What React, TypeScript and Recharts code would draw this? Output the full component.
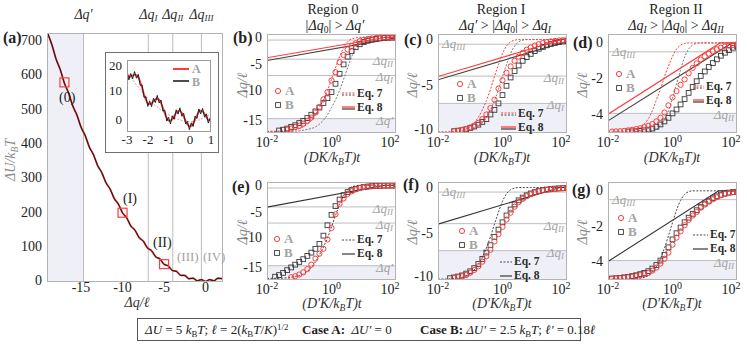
import React from 'react'
import {
  ComposedChart, Line, Scatter, XAxis, YAxis, ReferenceLine, ReferenceArea,
} from 'recharts'

const SERIF = '"Liberation Serif", "Times New Roman", serif'
const RED = '#ff3d3d'
const INK = '#2b2b2b'
const GRID = '#bdbdbd'
const SHADE = '#eff0f7'
const FAINT = '#a3a3a3'

// thresholds (units of ℓ)
const dqPrime = -14.7
const dqI = -6.9
const dqII = -3.95
const dqIII = -0.5

// (a) energy profile
const qMain = [-19, -18.5, -18, -17.5, -17, -16.5, -16, -15.5, -15, -14.5, -14, -13.5, -13, -12.5, -12, -11.5, -11, -10.5, -10, -9.5, -9, -8.5, -8, -7.5, -7, -6.5, -6, -5.5, -5, -4.5, -4, -3.5, -3, -2.5, -2, -1.5, -1, -0.5, 0, 0.5, 1, 1.5, 2]
const uMain = [719.5, 687, 645.5, 615, 575.5, 547, 509.5, 483, 447.5, 423, 389.5, 367, 335.5, 315, 285.5, 267, 239.5, 223, 197.5, 183, 159.5, 147, 125.5, 115, 95.5, 87, 69.5, 63, 47.5, 43, 29.5, 27, 15.5, 15, 5.5, 7, -0.5, 3, -2.5, 3, -0.5, 7, 5.5]
const pickQ = [-17, -10, -5]
const pickU = [578, 198, 48]

// (a) inset
const insetQ = [-3, -2.875, -2.75, -2.625, -2.5, -2.375, -2.25, -2.125, -2, -1.875, -1.75, -1.625, -1.5, -1.375, -1.25, -1.125, -1, -0.875, -0.75, -0.625, -0.5, -0.375, -0.25, -0.125, 0, 0.125, 0.25, 0.375, 0.5, 0.625, 0.75, 0.875, 1]
const insetA = [15.5, 14.76, 15.13, 15.55, 15.0, 13.05, 10.13, 7.26, 5.5, 5.26, 6.13, 7.05, 7.0, 5.55, 3.13, 0.76, -0.5, -0.24, 1.13, 2.55, 3.0, 2.05, 0.13, -1.74, -2.5, -1.74, 0.13, 2.05, 3.0, 2.55, 1.13, -0.24, -0.5]
const insetBQ = [-3, -2.91, -2.82, -2.73, -2.64, -2.55, -2.46, -2.37, -2.28, -2.19, -2.1, -2.01, -1.92, -1.83, -1.74, -1.65, -1.56, -1.47, -1.38, -1.29, -1.2, -1.11, -1.02, -0.93, -0.84, -0.75, -0.66, -0.57, -0.48, -0.39, -0.3, -0.21, -0.12, -0.03, 0.06, 0.15, 0.24, 0.33, 0.42, 0.51, 0.6, 0.69, 0.78, 0.87, 0.96, 1]
const insetB = [16.6, 13.7, 15.9, 14.1, 16.6, 14.3, 15.6, 11.8, 12.0, 7.6, 7.9, 4.5, 6.3, 4.4, 7.3, 5.8, 8.3, 5.7, 6.7, 2.9, 3.2, -0.6, 0.7, -1.6, 1.2, 0.0, 3.3, 1.8, 4.0, 1.1, 2.1, -1.6, -0.7, -3.6, -1.2, -2.5, 1.1, 0.3, 3.6, 1.9, 3.8, 0.8, 1.9, -1.3, 0.5, -0.5]
const guideQ = [-3, -2, -1, 0, 0.5, 1]
const guideU = [16.5, 7.2, 1.5, -0.8, 0, 2]

// time grid for panels (b)-(g)
const tGrid = [0.01, 0.0133, 0.0178, 0.0237, 0.0316, 0.0422, 0.0562, 0.075, 0.1, 0.133, 0.178, 0.237, 0.316, 0.422, 0.562, 0.75, 1, 1.33, 1.78, 2.37, 3.16, 4.22, 5.62, 7.5, 10, 13.3, 17.8, 23.7, 31.6, 42.2, 56.2, 75, 100]
const _ = null

const circlesB = [_, _, _, _, _, -16.7, -16.5, -16.2, -16.0, -15.6, -15.1, -14.5, -13.6, -12.6, -11.2, -9.9, -7.8, -6.3, -4.5, -3.2, -2.2, -1.6, -1.1, -0.7, -0.45, -0.3, -0.2, -0.13, -0.08, -0.05, -0.03, -0.02, -0.01]
const squaresB = [_, _, _, -16.85, -16.7, -16.5, -16.2, -15.9, -15.5, -15.1, -14.6, -14.0, -13.4, -12.7, -11.9, -11.0, -9.9, -8.4, -6.6, -4.9, -3.5, -2.5, -1.8, -1.25, -0.85, -0.6, -0.4, -0.28, -0.18, -0.12, -0.08, -0.05, -0.03]
const eq7bA = [-17, -17, -17, -16.98, -16.95, -16.9, -16.8, -16.65, -16.5, -16.2, -15.7, -15.0, -14.0, -12.7, -11.3, -9.6, -7.6, -5.5, -3.5, -1.9, -0.8, -0.3, -0.1, -0.03, 0, 0, 0, 0, 0, 0, 0, 0, 0]
const eq7bB = [-17, -17, -17, -17, -17, -17, -16.98, -16.95, -16.9, -16.8, -16.65, -16.5, -16.2, -15.7, -15.0, -14.0, -12.7, -11.3, -9.6, -7.6, -5.5, -3.5, -1.9, -0.8, -0.3, -0.1, -0.03, 0, 0, 0, 0, 0, 0]

const circlesC = [_, _, _, _, -9.9, -9.85, -9.75, -9.65, -9.5, -9.3, -9.0, -8.6, -8.1, -7.4, -6.5, -5.3, -4.4, -3.6, -2.9, -2.3, -1.85, -1.45, -1.1, -0.85, -0.65, -0.5, -0.38, -0.28, -0.2, -0.15, -0.1, -0.07, -0.05]
const squaresC = [_, _, _, _, -9.9, -9.85, -9.8, -9.7, -9.55, -9.4, -9.2, -8.9, -8.6, -8.1, -7.6, -6.9, -6.0, -5.0, -4.1, -3.4, -2.8, -2.3, -1.9, -1.55, -1.25, -1.0, -0.8, -0.62, -0.48, -0.37, -0.28, -0.2, -0.15]
const eq7cA = [-10, -10, -10, -9.98, -9.95, -9.9, -9.8, -9.65, -9.4, -9.0, -8.4, -7.6, -6.6, -5.4, -4.0, -2.7, -1.5, -0.7, -0.25, -0.07, 0, 0, 0, 0, 0, 0, 0, 0, 0, 0, 0, 0, 0]
const eq7cB = [-10, -10, -10, -10, -10, -9.98, -9.95, -9.9, -9.8, -9.65, -9.4, -9.0, -8.4, -7.6, -6.6, -5.4, -4.0, -2.7, -1.5, -0.7, -0.25, -0.07, 0, 0, 0, 0, 0, 0, 0, 0, 0, 0, 0]

const circlesD = [_, -4.97, -4.96, -4.95, -4.93, -4.9, -4.87, -4.83, -4.78, -4.72, -4.65, -4.55, -4.4, -4.2, -3.9, -3.5, -3.05, -2.7, -2.35, -2.05, -1.7, -1.4, -1.15, -0.93, -0.75, -0.6, -0.47, -0.36, -0.27, -0.2, -0.15, -0.11, -0.08]
const squaresD = [_, _, _, _, _, -4.97, -4.96, -4.95, -4.93, -4.9, -4.86, -4.8, -4.7, -4.57, -4.4, -4.2, -3.95, -3.73, -3.45, -3.15, -2.8, -2.47, -2.15, -1.85, -1.6, -1.35, -1.13, -0.92, -0.72, -0.55, -0.4, -0.27, -0.17]
const eq7dA = [-5, -5, -5, -5, -5, -4.97, -4.93, -4.85, -4.75, -4.55, -4.25, -3.8, -3.2, -2.6, -1.9, -1.3, -0.75, -0.35, -0.12, -0.03, 0, 0, 0, 0, 0, 0, 0, 0, 0, 0, 0, 0, 0]
const eq7dB = [-5, -5, -5, -5, -5, -5, -5, -5, -5, -5, -4.98, -4.95, -4.85, -4.65, -4.3, -3.8, -3.1, -2.3, -1.5, -0.8, -0.35, -0.12, -0.03, 0, 0, 0, 0, 0, 0, 0, 0, 0, 0]

const circlesE = [_, _, _, _, _, _, -16.8, -16.6, -16.3, -15.9, -15.3, -14.5, -13.4, -12.5, -11.6, -9.9, -7.8, -5.3, -3.4, -2.4, -1.6, -1.1, -0.75, -0.5, -0.35, -0.25, -0.18, -0.13, -0.1, -0.07, -0.05, -0.04, -0.03]
const squaresE = [_, _, -16.7, -16.4, -16.0, -15.5, -15.0, -14.5, -14.0, -13.5, -12.9, -12.3, -11.6, -10.7, -9.2, -7.3, -5.4, -3.8, -2.6, -1.8, -1.25, -0.9, -0.65, -0.45, -0.32, -0.23, -0.16, -0.12, -0.09, -0.06, -0.05, -0.04, -0.03]
const eq7e = [-17, -17, -17, -16.98, -16.95, -16.9, -16.8, -16.65, -16.5, -16.2, -15.7, -15.0, -14.0, -12.7, -11.3, -9.6, -7.6, -5.5, -3.5, -1.9, -0.8, -0.3, -0.1, -0.03, 0, 0, 0, 0, 0, 0, 0, 0, 0]

const circlesF = [_, _, _, _, -9.85, -9.8, -9.7, -9.55, -9.3, -9.0, -8.6, -8.1, -7.5, -6.8, -5.9, -5.1, -4.3, -3.5, -2.75, -2.1, -1.6, -1.25, -0.95, -0.72, -0.55, -0.42, -0.32, -0.25, -0.19, -0.14, -0.1, -0.08, -0.06]
const squaresF = [_, _, _, -9.9, -9.82, -9.72, -9.6, -9.4, -9.15, -8.8, -8.35, -7.8, -7.1, -6.3, -5.4, -4.6, -3.8, -3.05, -2.4, -1.85, -1.4, -1.1, -0.85, -0.65, -0.5, -0.38, -0.29, -0.22, -0.17, -0.13, -0.1, -0.08, -0.06]
const eq7f = [-10, -10, -10, -9.98, -9.95, -9.9, -9.8, -9.65, -9.4, -9.0, -8.4, -7.6, -6.6, -5.4, -4.0, -2.7, -1.5, -0.7, -0.25, -0.07, 0, 0, 0, 0, 0, 0, 0, 0, 0, 0, 0, 0, 0]

const circlesG = [_, -4.97, -4.96, -4.95, -4.93, -4.9, -4.87, -4.83, -4.78, -4.72, -4.65, -4.52, -4.35, -4.12, -3.85, -3.5, -3.05, -2.65, -2.3, -1.95, -1.65, -1.4, -1.2, -0.95, -0.78, -0.62, -0.48, -0.36, -0.26, -0.18, -0.12, -0.08, -0.05]
const squaresG = [_, -4.97, -4.95, -4.93, -4.9, -4.87, -4.83, -4.78, -4.72, -4.65, -4.55, -4.4, -4.2, -3.95, -3.62, -3.2, -2.75, -2.4, -2.08, -1.78, -1.52, -1.3, -1.1, -0.9, -0.72, -0.56, -0.42, -0.31, -0.22, -0.15, -0.1, -0.07, -0.05]
const eq7g = [-5, -5, -5, -5, -5, -5, -5, -4.98, -4.95, -4.9, -4.8, -4.6, -4.3, -3.85, -3.25, -2.55, -1.8, -1.1, -0.55, -0.2, -0.05, 0, 0, 0, 0, 0, 0, 0, 0, 0, 0, 0, 0]

// Eq. 8 (straight in log t)
const eq8bA = { t: [0.01, 50, 100], q: [-3.7, 0, 0] }
const eq8bB = { t: [0.01, 100], q: [-4.2, -0.1] }
const eq8cA = { t: [0.01, 70, 100], q: [-4.0, 0, 0] }
const eq8cB = { t: [0.01, 100], q: [-4.34, -0.2] }
const eq8dA = { t: [0.01, 30, 100], q: [-4.0, 0, 0] }
const eq8dB = { t: [0.01, 70, 100], q: [-4.37, 0, 0] }
const eq8e = { t: [0.01, 45, 100], q: [-4.0, 0, 0] }
const eq8f = { t: [0.01, 60, 100], q: [-4.0, 0, 0] }
const eq8g = { t: [0.01, 27, 100], q: [-4.0, 0, 0] }

const onGrid = (vals: (number | null)[]) =>
  tGrid.map((t, i) => ({ t, q: vals[i] })).filter(d => d.q !== null)
const pairs = (xs: number[], ys: number[], kx: string, ky: string) =>
  xs.map((x, i) => ({ [kx]: x, [ky]: ys[i] }))

const Sub = ({ children }: { children: React.ReactNode }) => (
  <span style={{ fontSize: '0.68em', position: 'relative', top: '0.3em' }}>{children}</span>
)
const Sup = ({ children }: { children: React.ReactNode }) => (
  <span style={{ fontSize: '0.68em', position: 'relative', top: '-0.45em' }}>{children}</span>
)

const abs = (left: number, top: number, s: React.CSSProperties = {}): React.CSSProperties => ({
  position: 'absolute', left, top, whiteSpace: 'nowrap', lineHeight: 1, fontFamily: SERIF, ...s,
})

const LogTick = (props: any) => {
  const { x, y, payload } = props
  const e = Math.round(Math.log10(payload.value))
  return (
    <text x={x} y={y + 14} textAnchor="middle" fontFamily={SERIF} fontSize={14} fill="#222">
      10<tspan dy={-5} fontSize={10}>{e}</tspan>
    </text>
  )
}
const YTick = (props: any) => {
  const { x, y, payload, fs = 14 } = props
  // the lowest label of the ±10 panels sits right next to the 10^-2 label: lift it a little
  const lift = payload.value === -10 ? 2.5 : 0
  return (
    <text x={x - 5} y={y + 4.5 - lift} textAnchor="end" fontFamily={SERIF} fontSize={fs} fill="#222">
      {payload.value}
    </text>
  )
}
const XTick = (props: any) => {
  const { x, y, payload, fs = 14, dy = 11 } = props
  return (
    <text x={x} y={y + dy} textAnchor="middle" fontFamily={SERIF} fontSize={fs} fill="#222">
      {payload.value}
    </text>
  )
}

const LevelLabel = (props: any) => {
  const { viewBox, sub, side } = props
  if (!viewBox || side === 'none') return null
  const right = side === 'right'
  const tx = right ? viewBox.x + viewBox.width - 3 : viewBox.x + 4
  return (
    <text x={tx} y={viewBox.y + (right ? 6 : 4)} textAnchor={right ? 'end' : 'start'}
      fontFamily={SERIF} fontStyle="italic" fontSize={13} fill={FAINT}>
      {sub === "'" ? 'Δq′' : <>Δq<tspan fontSize={9} dy={2}>{sub}</tspan></>}
    </text>
  )
}
const TopLabel = (props: any) => {
  const { viewBox, sub } = props
  if (!viewBox) return null
  return (
    <text x={viewBox.x} y={viewBox.y - 14} textAnchor="middle" fontFamily={SERIF}
      fontStyle="italic" fontSize={14} fill={INK}>
      {sub === "'" ? 'Δq′' : <>Δq<tspan fontSize={9} dy={2}>{sub}</tspan></>}
    </text>
  )
}

const CircleMark = (p: any) => <circle cx={p.cx} cy={p.cy} r={2.6} fill="none" stroke={RED} strokeWidth={1} />
const SquareMark = (p: any) => <rect x={p.cx - 2.4} y={p.cy - 2.4} width={4.8} height={4.8} fill="none" stroke="#3a3a3a" strokeWidth={0.9} />
const PickMark = (p: any) => <rect x={p.cx - 4.5} y={p.cy - 4.5} width={9} height={9} fill="none" stroke={RED} strokeWidth={1.2} />

type Level = { v: number; sub: string; side: 'left' | 'right' | 'none' }
interface PanelProps {
  left: number; top: number; height: number
  yDomain: [number, number]; yTicks: number[]
  shadeTo: number; levels: Level[]
  circles: (number | null)[]; squares: (number | null)[]
  eq7: { vals: number[]; color: string }[]
  eq8: { t: number[]; q: number[]; color: string }[]
}

const PW = 129
function Panel(p: PanelProps) {
  const yAxisW = 34, pad = 6, xAxisH = 20
  return (
    <div style={{ position: 'absolute', left: p.left - yAxisW, top: p.top - pad }}>
      <ComposedChart width={yAxisW + PW + pad} height={pad + p.height + xAxisH}
        margin={{ top: pad, right: pad, bottom: 0, left: 0 }}>
        <XAxis type="number" dataKey="t" scale="log" domain={[0.01, 100]} ticks={[0.01, 1, 100]}
          allowDataOverflow axisLine={false} tickLine={false} tickSize={0} tickMargin={0}
          height={xAxisH} tick={<LogTick />} />
        <YAxis type="number" dataKey="q" domain={p.yDomain} ticks={p.yTicks} allowDataOverflow
          axisLine={false} tickLine={false} tickSize={0} tickMargin={0} width={yAxisW} tick={<YTick />} />
        <ReferenceArea y1={p.yDomain[0]} y2={p.shadeTo} fill={SHADE} fillOpacity={1} stroke="none" />
        {p.levels.map(l => (
          <ReferenceLine key={l.sub} y={l.v} stroke={GRID} strokeWidth={1}
            label={<LevelLabel sub={l.sub} side={l.side} />} />
        ))}
        {p.eq8.map((s, i) => (
          <Line key={'s' + i} data={pairs(s.t, s.q, 't', 'q')} dataKey="q" stroke={s.color}
            strokeWidth={1.1} dot={false} isAnimationActive={false} />
        ))}
        {p.eq7.map((s, i) => (
          <Line key={'d' + i} data={onGrid(s.vals)} dataKey="q" type="monotone" stroke={s.color}
            strokeWidth={1} strokeDasharray="2 1.5" dot={false} isAnimationActive={false} />
        ))}
        <Scatter data={onGrid(p.squares)} shape={SquareMark} isAnimationActive={false} />
        <Scatter data={onGrid(p.circles)} shape={CircleMark} isAnimationActive={false} />
      </ComposedChart>
      <div style={{ position: 'absolute', left: yAxisW, top: pad, width: PW, height: p.height, border: '1px solid #b3b3b3', boxSizing: 'border-box' }} />
    </div>
  )
}

function KeyAB({ x, yA, yB }: { x: number; yA: number; yB: number }) {
  return (
    <>
      <svg style={{ position: 'absolute', left: x - 4, top: yA - 4 }} width={8} height={8}>
        <circle cx={4} cy={4} r={2.6} fill="none" stroke={RED} />
      </svg>
      <div style={abs(x + 7, yA - 6.5, { fontSize: 13, fontWeight: 700, color: FAINT })}>A</div>
      <svg style={{ position: 'absolute', left: x - 4, top: yB - 4 }} width={8} height={8}>
        <rect x={1.6} y={1.6} width={4.8} height={4.8} fill="none" stroke="#3a3a3a" strokeWidth={0.9} />
      </svg>
      <div style={abs(x + 7, yB - 6.5, { fontSize: 13, fontWeight: 700, color: FAINT })}>B</div>
    </>
  )
}

function KeyEq({ x1, x2, y7, y8, pair }: { x1: number; x2: number; y7: number; y8: number; pair: boolean }) {
  const w = x2 - x1
  return (
    <>
      <svg style={{ position: 'absolute', left: x1, top: y7 - 4 }} width={w} height={8}>
        {pair && <line x1={0} x2={w} y1={3} y2={3} stroke={RED} strokeDasharray="2 1.5" />}
        <line x1={0} x2={w} y1={pair ? 5 : 4} y2={pair ? 5 : 4} stroke="#444" strokeDasharray="2 1.5" />
      </svg>
      <div style={abs(x2 + 2, y7 - 6, { fontSize: 11.5, fontWeight: 700, color: INK })}>Eq. 7</div>
      <svg style={{ position: 'absolute', left: x1, top: y8 - 4 }} width={w} height={8}>
        {pair && <line x1={0} x2={w} y1={3} y2={3} stroke={RED} strokeWidth={1.3} />}
        <line x1={0} x2={w} y1={pair ? 5 : 4} y2={pair ? 5 : 4} stroke="#444" strokeWidth={1.3} />
      </svg>
      <div style={abs(x2 + 2, y8 - 6, { fontSize: 11.5, fontWeight: 700, color: INK })}>Eq. 8</div>
    </>
  )
}

const levels0: Level[] = [
  { v: dqIII, sub: 'III', side: 'none' }, { v: dqII, sub: 'II', side: 'right' },
  { v: dqI, sub: 'I', side: 'right' }, { v: dqPrime, sub: "'", side: 'right' },
]
const levels1: Level[] = [
  { v: dqIII, sub: 'III', side: 'left' }, { v: dqII, sub: 'II', side: 'right' }, { v: dqI, sub: 'I', side: 'right' },
]
const levels2: Level[] = [
  { v: dqIII, sub: 'III', side: 'left' }, { v: dqII, sub: 'II', side: 'right' },
]

const PanelLabel = ({ x, y, s }: { x: number; y: number; s: string }) => (
  <div style={abs(x, y - 8, { fontSize: 16, fontWeight: 700, color: '#222' })}>{s}</div>
)

const XLabel = ({ cx, y, prime }: { cx: number; y: number; prime: boolean }) => (
  <div style={abs(cx, y - 7, { fontSize: 14, fontStyle: 'italic', color: '#333', transform: 'translateX(-50%)' })}>
    ({prime ? 'D′' : 'D'}K/k<Sub>B</Sub>T)t
  </div>
)
const YLabel = ({ cx, cy, children }: { cx: number; cy: number; children: React.ReactNode }) => (
  <div style={abs(cx, cy, { fontSize: 14, fontStyle: 'italic', color: '#888', transform: 'translate(-50%,-50%) rotate(-90deg)' })}>
    {children}
  </div>
)

function PanelA() {
  const yAxisW = 40, padT = 26, padR = 8, xAxisH = 18
  const main = pairs(qMain, uMain, 'q', 'u')
  return (
    <div style={{ position: 'absolute', left: 47 - yAxisW, top: 33 - padT }}>
      <ComposedChart width={yAxisW + 176 + padR} height={padT + 249 + xAxisH}
        margin={{ top: padT, right: padR, bottom: 0, left: 0 }}>
        <XAxis type="number" dataKey="q" domain={[-19.1, 2.1]} ticks={[-15, -10, -5, 0]} allowDataOverflow
          axisLine={false} tickLine={false} tickSize={0} tickMargin={0} height={xAxisH} tick={<XTick dy={10} />} />
        <YAxis type="number" dataKey="u" domain={[-4, 722]} ticks={[0, 100, 200, 300, 400, 500, 600, 700]}
          allowDataOverflow axisLine={false} tickLine={false} tickSize={0} tickMargin={0} width={yAxisW} tick={<YTick />} />
        <ReferenceArea x1={-19.1} x2={dqPrime} fill={SHADE} fillOpacity={1} stroke="none" />
        <ReferenceLine x={dqPrime} stroke={GRID} label={<TopLabel sub="'" />} />
        <ReferenceLine x={dqI} stroke={GRID} label={<TopLabel sub="I" />} />
        <ReferenceLine x={dqII} stroke={GRID} label={<TopLabel sub="II" />} />
        <ReferenceLine x={dqIII} stroke={GRID} label={<TopLabel sub="III" />} />
        <Line data={main} dataKey="u" type="monotone" stroke="#d83030" strokeWidth={1.8} dot={false} isAnimationActive={false} />
        <Line data={main} dataKey="u" type="monotone" stroke="#1a1a1a" strokeWidth={1} dot={false} isAnimationActive={false} />
        <Scatter data={pairs(pickQ, pickU, 'q', 'u')} shape={PickMark} isAnimationActive={false} />
      </ComposedChart>
      <div style={{ position: 'absolute', left: yAxisW, top: padT, width: 176, height: 249, border: '1px solid #b3b3b3', boxSizing: 'border-box' }} />
    </div>
  )
}

function Inset() {
  const yAxisW = 22, pad = 4, xAxisH = 18
  return (
    <div style={{ position: 'absolute', left: 105, top: 52, width: 114, height: 101, background: '#fff', border: '1px solid #707070', boxSizing: 'border-box' }}>
      <div style={{ position: 'absolute', left: 127 - 105 - yAxisW - 1, top: 60 - 52 - pad - 1 }}>
        <ComposedChart width={yAxisW + 84 + pad} height={pad + 72 + xAxisH}
          margin={{ top: pad, right: pad, bottom: 0, left: 0 }}>
          <XAxis type="number" dataKey="q" domain={[-3, 1]} ticks={[-3, -2, -1, 0, 1]} allowDataOverflow
            axisLine={false} tickLine={false} tickSize={0} tickMargin={0} height={xAxisH} tick={<XTick fs={13} dy={12} />} />
          <YAxis type="number" dataKey="u" domain={[-4.4, 20.6]} ticks={[0, 10, 20]} allowDataOverflow
            axisLine={false} tickLine={false} tickSize={0} tickMargin={0} width={yAxisW} tick={<YTick fs={13} />} />
          <Line data={pairs(guideQ, guideU, 'q', 'u')} dataKey="u" type="monotone" stroke="#9a9a9a"
            strokeWidth={0.8} strokeDasharray="2 1.5" dot={false} isAnimationActive={false} />
          <Line data={pairs(insetQ, insetA, 'q', 'u')} dataKey="u" type="monotone" stroke={RED}
            strokeWidth={1.8} dot={false} isAnimationActive={false} />
          <Line data={pairs(insetBQ, insetB, 'q', 'u')} dataKey="u" stroke="#111" strokeWidth={0.9}
            dot={false} isAnimationActive={false} />
        </ComposedChart>
        <div style={{ position: 'absolute', left: yAxisW, top: pad, width: 84, height: 72, border: '1px solid #9a9a9a', boxSizing: 'border-box' }} />
      </div>
      <svg style={{ position: 'absolute', left: 173 - 106, top: 65 - 53 }} width={16} height={20}>
        <line x1={0} x2={16} y1={4} y2={4} stroke={RED} strokeWidth={2} />
        <line x1={0} x2={16} y1={16} y2={16} stroke="#111" strokeWidth={1.5} />
      </svg>
      <div style={abs(192 - 106, 63 - 53, { fontSize: 12, fontWeight: 700, color: FAINT })}>A</div>
      <div style={abs(192 - 106, 75.5 - 53, { fontSize: 12, fontWeight: 700, color: FAINT })}>B</div>
    </div>
  )
}

export default function App() {
  return (
    <div style={{ position: 'absolute', left: 0, top: 0, width: 747, height: 349, background: '#fff', overflow: 'hidden', fontFamily: SERIF }}>
      <PanelA />
      <Inset />
      <PanelLabel x={3} y={38} s="(a)" />
      <div style={abs(59, 91, { fontSize: 14, color: '#222' })}>(0)</div>
      <div style={abs(123, 192, { fontSize: 14, color: '#222' })}>(I)</div>
      <div style={abs(153, 236, { fontSize: 14, color: '#222' })}>(II)</div>
      <div style={abs(177, 250, { fontSize: 13, color: FAINT })}>(III)</div>
      <div style={abs(203, 250, { fontSize: 13, color: FAINT })}>(IV)</div>
      <YLabel cx={11} cy={160}>ΔU/k<Sub>B</Sub>T</YLabel>
      <div style={abs(137, 303 - 7, { fontSize: 14, fontStyle: 'italic', color: '#333', transform: 'translateX(-50%)' })}>Δq/ℓ</div>

      {/* top row */}
      <Panel left={267} top={34} height={99} yDomain={[-17.3, 0.6]} yTicks={[-15, -10, -5, 0]}
        shadeTo={dqPrime} levels={levels0} circles={circlesB} squares={squaresB}
        eq7={[{ vals: eq7bB, color: '#777' }, { vals: eq7bA, color: RED }]}
        eq8={[{ ...eq8bB, color: '#444' }, { ...eq8bA, color: RED }]} />
      <Panel left={438} top={34} height={99} yDomain={[-10.1, 0.6]} yTicks={[-10, -5, 0]}
        shadeTo={dqI} levels={levels1} circles={circlesC} squares={squaresC}
        eq7={[{ vals: eq7cB, color: '#777' }, { vals: eq7cA, color: RED }]}
        eq8={[{ ...eq8cB, color: '#444' }, { ...eq8cA, color: RED }]} />
      <Panel left={608} top={34} height={99} yDomain={[-5.05, 0.5]} yTicks={[-4, -2, 0]}
        shadeTo={dqII} levels={levels2} circles={circlesD} squares={squaresD}
        eq7={[{ vals: eq7dB, color: '#777' }, { vals: eq7dA, color: RED }]}
        eq8={[{ ...eq8dB, color: '#444' }, { ...eq8dA, color: RED }]} />

      {/* bottom row */}
      <Panel left={267} top={182} height={98} yDomain={[-17.3, 0.6]} yTicks={[-15, -10, -5, 0]}
        shadeTo={dqPrime} levels={levels0} circles={circlesE} squares={squaresE}
        eq7={[{ vals: eq7e, color: '#444' }]} eq8={[{ ...eq8e, color: '#333' }]} />
      <Panel left={438} top={182} height={98} yDomain={[-10.1, 0.6]} yTicks={[-10, -5, 0]}
        shadeTo={dqI} levels={levels1} circles={circlesF} squares={squaresF}
        eq7={[{ vals: eq7f, color: '#444' }]} eq8={[{ ...eq8f, color: '#333' }]} />
      <Panel left={608} top={182} height={98} yDomain={[-5.05, 0.5]} yTicks={[-4, -2, 0]}
        shadeTo={dqII} levels={levels2} circles={circlesG} squares={squaresG}
        eq7={[{ vals: eq7g, color: '#444' }]} eq8={[{ ...eq8g, color: '#333' }]} />

      {/* titles */}
      <div style={abs(333, 3, { fontSize: 14, color: '#222', transform: 'translateX(-50%)' })}>Region 0</div>
      <div style={abs(335, 19, { fontSize: 14, color: '#222', transform: 'translateX(-50%)' })}>|<i>Δq</i><Sub>0</Sub>| &gt; <i>Δq′</i></div>
      <div style={abs(501, 3, { fontSize: 14, color: '#222', transform: 'translateX(-50%)' })}>Region I</div>
      <div style={abs(505, 19, { fontSize: 14, color: '#222', transform: 'translateX(-50%)' })}><i>Δq′</i> &gt; |<i>Δq</i><Sub>0</Sub>| &gt; <i>Δq</i><Sub><i>I</i></Sub></div>
      <div style={abs(676, 3, { fontSize: 14, color: '#222', transform: 'translateX(-50%)' })}>Region II</div>
      <div style={abs(676, 19, { fontSize: 14, color: '#222', transform: 'translateX(-50%)' })}><i>Δq</i><Sub><i>I</i></Sub> &gt; |<i>Δq</i><Sub>0</Sub>| &gt; <i>Δq</i><Sub><i>II</i></Sub></div>

      <PanelLabel x={233} y={38} s="(b)" />
      <PanelLabel x={404} y={40} s="(c)" />
      <PanelLabel x={573} y={43} s="(d)" />
      <PanelLabel x={232} y={187} s="(e)" />
      <PanelLabel x={403} y={185} s="(f)" />
      <PanelLabel x={572} y={190} s="(g)" />

      {[243, 413, 583].map(cx => <YLabel key={'ya' + cx} cx={cx} cy={85}>Δq/ℓ</YLabel>)}
      {[243, 413, 583].map(cx => <YLabel key={'yb' + cx} cx={cx} cy={232}>Δq/ℓ</YLabel>)}
      {[332, 502, 672].map(cx => <XLabel key={'xa' + cx} cx={cx} y={158} prime={false} />)}
      {[332, 502, 672].map(cx => <XLabel key={'xb' + cx} cx={cx} y={304} prime={true} />)}

      <KeyAB x={278} yA={90.5} yB={104.5} />
      <KeyEq x1={342} x2={355} y7={94} y8={107.5} pair />
      <KeyAB x={460} yA={83.5} yB={97.5} />
      <KeyEq x1={501} x2={516} y7={114} y8={127.5} pair />
      <KeyAB x={619} yA={73.5} yB={87.5} />
      <KeyEq x1={693} x2={704} y7={87} y8={100.5} pair />
      <KeyAB x={277} yA={238.5} yB={252.5} />
      <KeyEq x1={342} x2={355} y7={240} y8={253.5} pair={false} />
      <KeyAB x={462} yA={230.5} yB={244.5} />
      <KeyEq x1={500} x2={512} y7={262} y8={275.5} pair={false} />
      <KeyAB x={621} yA={217.5} yB={231.5} />
      <KeyEq x1={693} x2={708} y7={235} y8={248.5} pair={false} />

      <div style={{ position: 'absolute', left: 137, top: 318, width: 444, height: 23, border: '1px solid #555', boxSizing: 'border-box' }} />
      <div style={abs(145, 323, { fontSize: 13, color: '#222' })}>
        <i>ΔU</i> = 5 <i>k</i><Sub>B</Sub><i>T</i>; <i>ℓ</i> = 2(<i>k</i><Sub>B</Sub><i>T</i>/<i>K</i>)<Sup>1/2</Sup>
      </div>
      <div style={abs(302, 323, { fontSize: 13, color: '#222' })}>
        <b>Case A:</b>&nbsp; <i>ΔU′</i> = 0
      </div>
      <div style={abs(420, 323, { fontSize: 13, color: '#222' })}>
        <b>Case B:</b> <i>ΔU′</i> = 2.5 <i>k</i><Sub>B</Sub><i>T</i>; <i>ℓ′</i> = 0.18<i>ℓ</i>
      </div>
    </div>
  )
}
